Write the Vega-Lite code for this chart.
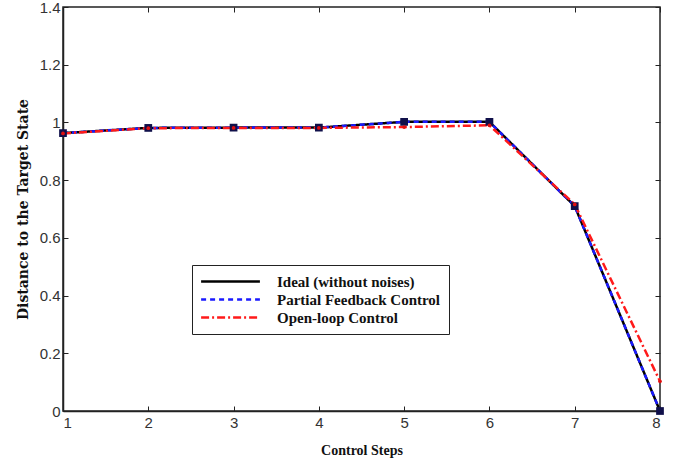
{
  "$schema": "https://vega.github.io/schema/vega-lite/v6.json",
  "width": 597,
  "height": 404,
  "autosize": {"type": "none"},
  "padding": {"left": 63, "top": 7, "right": 25, "bottom": 52},
  "background": "white",
  "config": {
    "view": {"stroke": "#222", "strokeWidth": 1.5},
    "axis": {
      "grid": false,
      "domainColor": "#222",
      "domainWidth": 1.5,
      "tickColor": "#222",
      "tickSize": -5,
      "labelFont": "Liberation Sans",
      "labelFontSize": 15,
      "labelColor": "#333",
      "titleFont": "Liberation Serif",
      "titleFontSize": 15,
      "titleFontWeight": "bold",
      "titleColor": "#111"
    }
  },
  "data": {
    "values": [
      {"step": 1, "value": 0.963, "series": "Ideal (without noises)"},
      {"step": 2, "value": 0.981, "series": "Ideal (without noises)"},
      {"step": 3, "value": 0.982, "series": "Ideal (without noises)"},
      {"step": 4, "value": 0.982, "series": "Ideal (without noises)"},
      {"step": 5, "value": 1.002, "series": "Ideal (without noises)"},
      {"step": 6, "value": 1.002, "series": "Ideal (without noises)"},
      {"step": 7, "value": 0.71, "series": "Ideal (without noises)"},
      {"step": 8, "value": 0.0, "series": "Ideal (without noises)"},
      {"step": 1, "value": 0.963, "series": "Partial Feedback Control"},
      {"step": 2, "value": 0.981, "series": "Partial Feedback Control"},
      {"step": 3, "value": 0.982, "series": "Partial Feedback Control"},
      {"step": 4, "value": 0.982, "series": "Partial Feedback Control"},
      {"step": 5, "value": 1.002, "series": "Partial Feedback Control"},
      {"step": 6, "value": 1.002, "series": "Partial Feedback Control"},
      {"step": 7, "value": 0.71, "series": "Partial Feedback Control"},
      {"step": 8, "value": 0.0, "series": "Partial Feedback Control"},
      {"step": 1, "value": 0.962, "series": "Open-loop Control"},
      {"step": 2, "value": 0.98, "series": "Open-loop Control"},
      {"step": 3, "value": 0.981, "series": "Open-loop Control"},
      {"step": 4, "value": 0.981, "series": "Open-loop Control"},
      {"step": 5, "value": 0.984, "series": "Open-loop Control"},
      {"step": 6, "value": 0.99, "series": "Open-loop Control"},
      {"step": 7, "value": 0.716, "series": "Open-loop Control"},
      {"step": 8, "value": 0.103, "series": "Open-loop Control"}
    ]
  },
  "resolve": {"axis": {"x": "independent", "y": "independent"}},
  "layer": [
    {
      "mark": {"type": "line", "strokeWidth": 2.5},
      "encoding": {
        "x": {
          "field": "step", "type": "quantitative",
          "scale": {"domain": [1, 8], "nice": false, "zero": false},
          "axis": {"values": [1, 2, 3, 4, 5, 6, 7, 8], "format": "d", "title": "Control Steps", "titleFontSize": 14, "titlePadding": 13, "labelPadding": 9}
        },
        "y": {
          "field": "value", "type": "quantitative",
          "scale": {"domain": [0, 1.4], "nice": false},
          "axis": {"values": [0, 0.2, 0.4, 0.6, 0.8, 1, 1.2, 1.4], "format": "~g", "title": "Distance to the Target State", "titleFont": "DejaVu Serif", "titleFontSize": 14, "titlePadding": 9, "labelPadding": 8}
        },
        "color": {
          "field": "series", "type": "nominal",
          "scale": {"domain": ["Ideal (without noises)", "Partial Feedback Control", "Open-loop Control"], "range": ["#000000", "#1a1aff", "#ff1a1a"]},
          "legend": {
            "title": null,
            "orient": "none",
            "legendX": 129,
            "legendY": 258,
            "direction": "vertical",
            "symbolType": "M-4.2,0H4.2",
            "symbolSize": 196,
            "symbolStrokeWidth": 2.5,
            "symbolOffset": 22,
            "labelFont": "Liberation Serif",
            "labelFontWeight": "bold",
            "labelFontSize": 15,
            "labelColor": "#111",
            "labelOffset": 38,
            "strokeColor": "#222",
            "fillColor": "white",
            "padding": 8,
            "rowPadding": 1,
            "labelLimit": 300
          }
        },
        "strokeDash": {
          "field": "series", "type": "nominal",
          "scale": {"domain": ["Ideal (without noises)", "Partial Feedback Control", "Open-loop Control"], "range": [[1, 0], [5, 4], [8, 3, 2, 3]]},
          "legend": null
        },
        "order": {"field": "step"}
      }
    },
    {
      "transform": [{"filter": "datum.series === 'Ideal (without noises)'"}],
      "mark": {"type": "point", "shape": "square", "filled": true, "size": 60, "color": "#10104a", "opacity": 1},
      "encoding": {
        "x": {"field": "step", "type": "quantitative", "axis": {"orient": "top", "values": [1, 2, 3, 4, 5, 6, 7, 8], "labels": false, "title": null, "domain": false}},
        "y": {"field": "value", "type": "quantitative", "axis": {"orient": "right", "values": [0, 0.2, 0.4, 0.6, 0.8, 1, 1.2, 1.4], "labels": false, "title": null, "domain": false}}
      }
    },
    {
      "transform": [{"filter": "datum.series === 'Open-loop Control'"}],
      "mark": {"type": "point", "shape": "circle", "filled": true, "size": 14, "color": "#e01010", "opacity": 1},
      "encoding": {
        "x": {"field": "step", "type": "quantitative", "axis": null},
        "y": {"field": "value", "type": "quantitative", "axis": null}
      }
    }
  ]
}
